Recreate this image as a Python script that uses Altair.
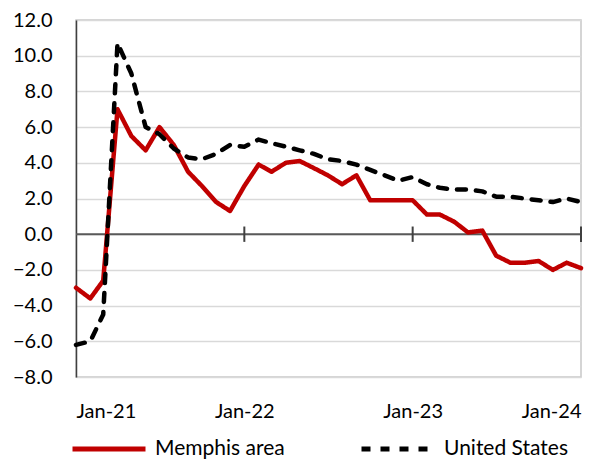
import altair as alt
import pandas as pd

months = [d.strftime("%Y-%m-%d") for d in pd.date_range("2021-01-01", "2024-01-01", freq="MS")]

memphis = [-3.0, -3.6, -2.6, 7.0, 5.5, 4.7, 6.0, 5.0, 3.5, 2.7, 1.8, 1.3,
           2.7, 3.9, 3.5, 4.0, 4.1, 3.7, 3.3, 2.8, 3.3, 1.9, 1.9, 1.9,
           1.9, 1.1, 1.1, 0.7, 0.1, 0.2, -1.2, -1.6, -1.6, -1.5, -2.0, -1.6, -1.9]
united_states = [-6.2, -6.0, -4.5, 10.7, 9.0, 6.0, 5.6, 4.8, 4.3, 4.2, 4.5, 5.0,
                 4.9, 5.3, 5.1, 4.9, 4.7, 4.5, 4.2, 4.1, 3.9, 3.6, 3.3, 3.0,
                 3.2, 2.8, 2.6, 2.5, 2.5, 2.4, 2.1, 2.1, 2.0, 1.9, 1.8, 2.0, 1.8]
series_names = ["Memphis area", "United States"]
series_colors = ["#c00000", "#000000"]
y_ticks = [-8, -6, -4, -2, 0, 2, 4, 6, 8, 10, 12]
x_tick_dates = ["2021-01-01", "2022-01-01", "2023-01-01", "2024-01-01"]
cross_tick_dates = ["2022-01-01", "2023-01-01", "2024-01-01"]

rows = []
for name, vals in zip(series_names, [memphis, united_states]):
    for m, v in zip(months, vals):
        rows.append({"date": m, "series": name, "value": v})
df = pd.DataFrame(rows)
ticks_df = pd.DataFrame({"date": cross_tick_dates, "lo": [-0.43] * 3, "hi": [0.43] * 3})
zero_df = pd.DataFrame({"v": [0]})

FONT = "Lato"

x_scale = alt.Scale(type="utc", domain=[alt.DateTime(year=2021, month=1, date=1, utc=True),
                                        alt.DateTime(year=2024, month=1, date=1, utc=True)])
y_scale = alt.Scale(domain=[-8, 12], nice=False, zero=False)

x_axis = alt.Axis(
    values=[alt.DateTime(year=int(d[:4]), month=1, date=1, utc=True) for d in x_tick_dates],
    format="%b-%y", title=None, grid=False, domain=False, ticks=False, labelOverlap=False,
    labelFont=FONT, labelFontSize=20, labelColor="#000000", labelPadding=24,
)
y_axis = alt.Axis(
    values=y_ticks, format=".1f", title=None, grid=True, gridColor="#d9d9d9", gridWidth=1.5,
    domain=True, domainColor="#404040", domainWidth=1.5, ticks=False, labelOverlap=False,
    labelFont=FONT, labelFontSize=20, labelColor="#000000", labelPadding=24,
)

legend_opts = dict(
    title=None, orient="none", direction="horizontal",
    legendX=-6, legendY=390, padding=0,
    symbolType="stroke", symbolSize=5329, symbolStrokeWidth=5,
    labelFont=FONT, labelFontSize=21, labelColor="#000000",
    labelOffset=7, columnPadding=66,
)

lines = alt.Chart(df).mark_line(strokeWidth=4.5, strokeCap="round", strokeJoin="round").encode(
    x=alt.X("date:T", scale=x_scale, axis=x_axis),
    y=alt.Y("value:Q", scale=y_scale, axis=y_axis),
    color=alt.Color("series:N", scale=alt.Scale(domain=series_names, range=series_colors),
                    legend=alt.Legend(**legend_opts)),
    strokeDash=alt.StrokeDash("series:N", scale=alt.Scale(domain=series_names, range=[[1, 0], [9, 10]]),
                              legend=alt.Legend(**legend_opts)),
)

zero_line = alt.Chart(zero_df).mark_rule(color="#595959", strokeWidth=2).encode(
    y=alt.Y("v:Q", scale=y_scale, axis=y_axis)
)

cross_ticks = alt.Chart(ticks_df).mark_rule(color="#404040", strokeWidth=2).encode(
    x=alt.X("date:T", scale=x_scale, axis=x_axis),
    y=alt.Y("lo:Q", scale=y_scale, axis=y_axis),
    y2="hi:Q",
)

chart = alt.layer(zero_line, cross_ticks, lines).properties(
    width=505, height=357,
    autosize=alt.AutoSizeParams(type="none"),
    padding={"left": 68, "top": 12, "right": 26, "bottom": 82},
).configure_view(stroke="#c8c8c8", strokeWidth=1.5)

chart.save("out.html", embed_options={"renderer": "svg", "actions": False})
